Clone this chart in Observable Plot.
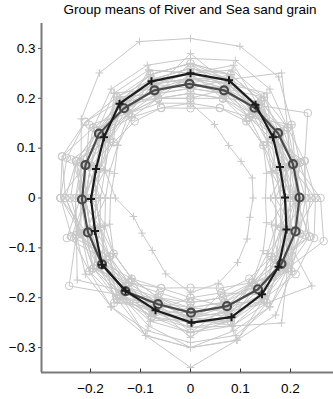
<!DOCTYPE html>
<html>
<head>
<meta charset="utf-8">
<script src="https://cdn.jsdelivr.net/npm/d3@7"></script>
<script src="https://cdn.jsdelivr.net/npm/@observablehq/plot@0.6"></script>
<style>
  html, body { margin: 0; padding: 0; background: #fff; }
  #wrap { width: 333px; height: 399px; overflow: hidden; font-family: "Liberation Sans", Arial, sans-serif; }
  #title { width: 286px; padding-left: 47px; height: 22px; line-height: 20px; font-size: 13.5px; text-align: center; color: #000; white-space: nowrap; }
  svg { display: block; }
</style>
</head>
<body>
<div id="wrap">
  <div id="title">Group means of River and Sea sand grain</div>
  <div id="chart"></div>
</div>
<script>
// ---- data ----
const xTicks = [-0.2, -0.1, 0, 0.1, 0.2];
const yTicks = [-0.3, -0.2, -0.1, 0, 0.1, 0.2, 0.3];
const xDomain = [-0.298, 0.286];
const yDomain = [-0.35, 0.35];

// outline sampling directions (degrees)
const angles = [90, 72, 54, 36, 18, 0, -18, -36, -54, -72, -90, -108, -126, -144, -162, 180, 162, 144, 126, 108];

// individual River grains (radius at each direction)
const riverGrains = [
  [.32,.32,.30,.25,.22,.21,.22,.24,.27,.28,.30,.29,.27,.25,.23,.22,.23,.27,.31,.33],
  [.27,.26,.24,.23,.19,.21,.20,.23,.25,.27,.27,.26,.24,.23,.21,.21,.21,.22,.25,.26],
  [.23,.23,.21,.19,.17,.17,.18,.20,.22,.24,.24,.22,.21,.20,.19,.18,.18,.20,.22,.23],
  [.26,.25,.31,.24,.21,.20,.21,.25,.29,.30,.34,.29,.25,.24,.22,.21,.20,.21,.24,.25],
  [.22,.22,.20,.18,.16,.15,.16,.18,.21,.23,.23,.21,.20,.19,.17,.16,.16,.18,.21,.22],
  [.19,.155,.13,.125,.13,.125,.125,.14,.16,.18,.19,.16,.13,.12,.12,.15,.18,.20,.21,.20],
  [.25,.27,.25,.22,.20,.19,.20,.22,.24,.26,.26,.25,.24,.23,.21,.21,.21,.23,.26,.27],
  [.24,.24,.22,.20,.18,.18,.19,.21,.23,.25,.25,.23,.22,.21,.19,.19,.19,.21,.23,.24],
  [.28,.29,.27,.24,.22,.21,.23,.25,.27,.29,.29,.28,.27,.26,.24,.23,.22,.24,.27,.28],
  [.25,.24,.23,.21,.20,.19,.21,.24,.31,.27,.26,.24,.23,.28,.24,.21,.20,.21,.23,.25],
  [.26,.26,.24,.21,.19,.20,.21,.23,.25,.30,.30,.29,.24,.22,.20,.20,.19,.20,.23,.25],
  [.21,.21,.19,.18,.17,.17,.18,.19,.21,.22,.22,.21,.20,.19,.18,.17,.17,.18,.20,.21],
  [.27,.25,.23,.21,.19,.18,.19,.22,.26,.30,.30,.27,.24,.22,.20,.19,.19,.21,.24,.26],
  [.24,.25,.22,.19,.18,.18,.19,.30,.26,.27,.24,.22,.21,.21,.19,.19,.20,.22,.24,.24],
  [.25,.28,.23,.23,.18,.21,.19,.24,.22,.26,.24,.26,.22,.24,.19,.22,.19,.23,.22,.27],
  [.29,.24,.26,.20,.21,.17,.22,.20,.26,.24,.28,.23,.26,.21,.22,.18,.22,.20,.26,.23],
  [.23,.26,.21,.22,.17,.19,.17,.22,.21,.25,.23,.24,.20,.22,.18,.20,.18,.21,.21,.25],
  [.27,.23,.25,.19,.20,.16,.20,.19,.25,.23,.27,.22,.25,.20,.21,.17,.21,.19,.25,.22]
];

// individual Sea grains
const seaGrains = [
  [.26,.25,.25,.24,.24,.25,.26,.26,.25,.25,.25,.25,.25,.25,.25,.26,.26,.26,.25,.25],
  [.21,.21,.20,.20,.20,.20,.20,.21,.21,.21,.21,.20,.21,.20,.20,.20,.20,.21,.21,.21],
  [.24,.24,.23,.29,.24,.23,.23,.24,.24,.24,.24,.23,.24,.24,.23,.26,.27,.24,.23,.24],
  [.19,.19,.19,.18,.18,.19,.19,.20,.20,.20,.20,.19,.20,.19,.19,.19,.19,.19,.19,.19],
  [.23,.22,.23,.22,.22,.23,.25,.24,.23,.23,.23,.22,.23,.23,.22,.22,.23,.23,.22,.23],
  [.25,.24,.23,.22,.22,.26,.28,.24,.24,.24,.25,.24,.24,.30,.24,.23,.23,.23,.24,.24],
  [.22,.22,.21,.21,.21,.21,.21,.22,.23,.23,.24,.24,.25,.23,.21,.21,.21,.22,.22,.22],
  [.27,.26,.24,.23,.22,.22,.22,.23,.24,.26,.27,.25,.24,.24,.23,.25,.27,.26,.24,.26],
  [.20,.21,.21,.21,.20,.21,.22,.23,.22,.21,.21,.21,.22,.22,.21,.21,.21,.22,.21,.21],
  [.24,.23,.22,.21,.21,.22,.23,.24,.25,.26,.25,.24,.24,.23,.23,.25,.24,.23,.23,.23],
  [.18,.19,.20,.21,.20,.20,.21,.21,.21,.19,.18,.19,.21,.22,.21,.21,.22,.22,.20,.19],
  [.23,.23,.22,.22,.23,.24,.24,.23,.22,.22,.22,.22,.22,.22,.23,.24,.24,.23,.22,.23],
  [.22,.25,.21,.24,.21,.25,.22,.25,.21,.24,.22,.25,.21,.24,.22,.26,.22,.25,.21,.24],
  [.25,.21,.24,.20,.23,.21,.25,.21,.24,.20,.25,.21,.24,.20,.25,.21,.25,.21,.24,.21],
  [.24,.23,.20,.25,.23,.21,.25,.22,.26,.22,.24,.22,.26,.21,.26,.22,.24,.21,.25,.22],
  [.20,.23,.23,.20,.24,.23,.20,.24,.21,.23,.20,.24,.22,.20,.24,.21,.24,.20,.23,.21]
];

// group means
const riverMeanX = [0.0, 0.077, 0.13, 0.165, 0.179, 0.189, 0.192, 0.176, 0.143, 0.082, 0.002, -0.07, -0.13, -0.177, -0.191, -0.199, -0.189, -0.173, -0.142, -0.078];
const riverMeanY = [0.25, 0.236, 0.187, 0.122, 0.062, 0.001, -0.063, -0.138, -0.193, -0.239, -0.25, -0.225, -0.186, -0.134, -0.066, -0.002, 0.058, 0.122, 0.189, 0.234];
const seaMeanX = [-0.002, 0.067, 0.128, 0.175, 0.205, 0.218, 0.21, 0.182, 0.135, 0.073, 0.001, -0.065, -0.13, -0.177, -0.205, -0.217, -0.21, -0.183, -0.133, -0.072];
const seaMeanY = [0.229, 0.216, 0.181, 0.13, 0.068, 0.001, -0.067, -0.132, -0.183, -0.217, -0.23, -0.213, -0.187, -0.133, -0.069, -0.003, 0.066, 0.129, 0.18, 0.216];

// ---- build tables ----
function grainPoints(grains, group) {
  const pts = [];
  grains.forEach((rs, g) => {
    const idx = rs.map((_, i) => i).concat([0]);
    idx.forEach((i, k) => {
      const a = angles[i] * Math.PI / 180;
      pts.push({id: group + g, x: rs[i] * Math.cos(a), y: rs[i] * Math.sin(a), closing: k === rs.length});
    });
  });
  return pts;
}
function meanPoints(xs, ys) {
  const idx = xs.map((_, i) => i).concat([0]);
  return idx.map((i, k) => ({x: xs[i], y: ys[i], closing: k === xs.length}));
}
const riverPts = grainPoints(riverGrains, "r");
const seaPts = grainPoints(seaGrains, "s");
const riverMean = meanPoints(riverMeanX, riverMeanY);
const seaMean = meanPoints(seaMeanX, seaMeanY);

const plusSymbol = {
  draw(ctx, size) {
    const r = Math.sqrt(size / Math.PI);
    ctx.moveTo(-r, 0); ctx.lineTo(r, 0);
    ctx.moveTo(0, -r); ctx.lineTo(0, r);
  }
};

const gray = "#c8c8c8";
const axisGray = "#7a7a7a";
const fmt = d3.format("");

const chart = Plot.plot({
  width: 333,
  height: 377,
  marginTop: 1,
  marginBottom: 27,
  marginLeft: 41,
  marginRight: 0,
  style: {fontFamily: "Liberation Sans, Arial, sans-serif", fontSize: "13.5px", color: "#000", background: "#fff", overflow: "hidden"},
  x: {domain: xDomain, label: null},
  y: {domain: yDomain, label: null},
  marks: [
    // individual grains
    Plot.line(riverPts, {x: "x", y: "y", z: "id", stroke: gray, strokeWidth: 1}),
    Plot.line(seaPts, {x: "x", y: "y", z: "id", stroke: gray, strokeWidth: 1}),
    Plot.dot(riverPts.filter(d => !d.closing), {x: "x", y: "y", symbol: plusSymbol, r: 3.8, stroke: gray, strokeWidth: 1, fill: "none"}),
    Plot.dot(seaPts.filter(d => !d.closing), {x: "x", y: "y", symbol: "circle", r: 3.8, stroke: gray, strokeWidth: 1, fill: "none"}),
    // means
    Plot.line(seaMean, {x: "x", y: "y", stroke: "#4a4a4a", strokeWidth: 2.2}),
    Plot.dot(seaMean.filter(d => !d.closing), {x: "x", y: "y", symbol: "circle", r: 4, stroke: "#4a4a4a", strokeWidth: 2.2, fill: "none"}),
    Plot.line(riverMean, {x: "x", y: "y", stroke: "#1c1c1c", strokeWidth: 2.2}),
    Plot.dot(riverMean.filter(d => !d.closing), {x: "x", y: "y", symbol: plusSymbol, r: 4, stroke: "#1c1c1c", strokeWidth: 2, fill: "none"}),
    // axes
    Plot.ruleX([xDomain[0]], {stroke: axisGray, strokeWidth: 2}),
    Plot.ruleY([yDomain[0]], {stroke: axisGray, strokeWidth: 2}),
    Plot.ruleX(xTicks, {x: d => d, y1: yDomain[0], y2: yDomain[0] + 0.007, stroke: "#333", strokeWidth: 1}),
    Plot.axisX(xTicks, {tickSize: 0, tickPadding: 11, fill: "#000", fontSize: 13.5, tickFormat: fmt, label: null}),
    Plot.axisY(yTicks, {tickSize: 3, tickPadding: 3, stroke: "#555", fill: "#000", fontSize: 13.5, tickFormat: fmt, label: null})
  ]
});
document.getElementById("chart").appendChild(chart);
</script>
</body>
</html>
